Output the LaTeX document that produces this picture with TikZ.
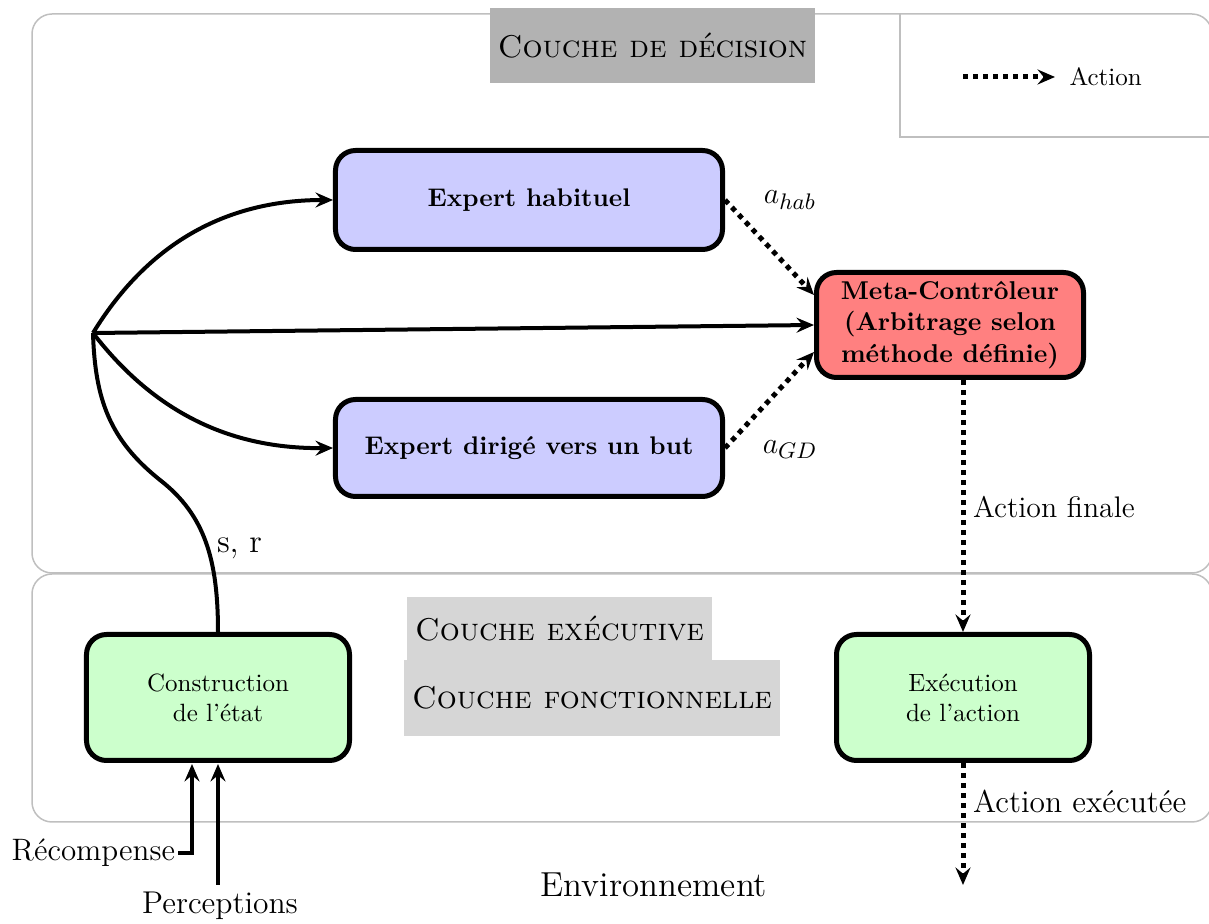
\documentclass[tikz,border=0pt]{standalone}
\usetikzlibrary{arrows.meta}
\begin{document}
\begin{tikzpicture}[x=0.4pt,y=-0.4pt,
  layer/.style={draw=black!25, line width=0.6pt, rounded corners=8pt},
  box/.style={draw=black, line width=2pt, rounded corners=8pt, align=center, inner sep=0pt},
  titlebox/.style={inner sep=0pt, font=\fontsize{12.6}{15}\selectfont\scshape},
  conn/.style={line width=1.6pt, -{Stealth[length=7pt,width=6pt,inset=2.5pt]}},
  plain/.style={line width=1.6pt},
  dot/.style={line width=2pt, dash pattern=on 2pt off 2pt, -{Stealth[length=7pt,width=6pt,inset=2.5pt]}},
  lbl/.style={font=\fontsize{12.6}{15}\selectfont, inner sep=1pt}]
\useasboundingbox (0,0) rectangle (1209,924);
% layers
\draw[layer] (32,14) rectangle (1212,573);
\draw[layer] (32,574) rectangle (1212,822);
% legend
\draw[draw=black!25, line width=0.6pt] (900,14) -- (900,137) -- (1209,137);
\coordinate (la) at (963,77);
\coordinate (lb) at (1055,77);
\draw[dot] (la) -- (lb);
\node[anchor=west, inner sep=0pt] (lt) at (1069,77) {Action};
% titles
\node[titlebox, fill=black!30, minimum width=130pt, minimum height=30pt] (tdec) at (652.5,45.5) {Couche de décision};
\node[titlebox, fill=black!16, minimum width=122pt, minimum height=25.2pt] (texe) at (559.5,628.5) {Couche exécutive};
\node[titlebox, fill=black!16, minimum width=150.4pt, minimum height=30.4pt] (tfon) at (592,698) {Couche fonctionnelle};
% boxes
\node[box, fill=blue!20, minimum width=154.8pt, minimum height=39.6pt, font=\fontsize{10.2}{12.6}\selectfont\bfseries] (eh) at (529,200) {Expert habituel};
\node[box, fill=blue!20, minimum width=154.8pt, minimum height=38.8pt, font=\fontsize{10.2}{12.6}\selectfont\bfseries] (ed) at (529,448) {Expert dirigé vers un but};
\node[box, fill=red!50, minimum width=106.8pt, minimum height=42pt, font=\fontsize{10.3}{12.6}\selectfont\bfseries] (mc) at (950,325) {Meta-Contrôleur\\(Arbitrage selon\\méthode définie)};
\node[box, fill=green!20, minimum width=105.2pt, minimum height=50.4pt] (cs) at (218,697.5) {Construction\\de l'état};
\node[box, fill=green!20, minimum width=101.2pt, minimum height=50.4pt] (ex) at (963,697.5) {Exécution\\de l'action};
% branch
\coordinate (b) at (93,333);
\draw[plain] (cs.north) .. controls (218,560) and (205,515) .. (160,480) .. controls (110,440) and (95,400) .. (b);
\node[font=\fontsize{13.2}{15}\selectfont, inner sep=1pt, anchor=west] (sr) at (214,548) {s, r};
\draw[conn] (b) .. controls (150,240) and (230,200) .. (eh.west);
\draw[conn] (b) -- (mc.west);
\draw[conn] (b) .. controls (160,420) and (240,449) .. (ed.west);
% actions
\draw[dot] (eh.east) -- (mc.north west |- 0,295) coordinate (m1);
\draw[dot] (ed.east) -- (mc.south west |- 0,352) coordinate (m2);
\node[lbl] (ah) at (790,200) {$a_{hab}$};
\node[lbl] (ag) at (790,450) {$a_{GD}$};
\draw[dot] (mc.south -| ex.north) -- (ex.north);
\node[font=\fontsize{11.9}{15}\selectfont, inner sep=1pt, anchor=west] (af) at (970,507) {Action finale};
\coordinate (env) at (963,885);
\draw[dot] (ex.south) -- (env);
\node[font=\fontsize{12.6}{15}\selectfont, inner sep=1pt, anchor=west] (ae) at (970,801) {Action exécutée};
% inputs
\node[font=\fontsize{12.4}{15}\selectfont, inner sep=1pt, anchor=east] (rc) at (178,853) {Récompense};
\coordinate (rin) at (192,764);
\draw[conn] (rc.east) -| (rin);
\node[font=\fontsize{12.6}{15}\selectfont, inner sep=0pt] (pc) at (220,906) {Perceptions};
\coordinate (pin) at (218,764);
\draw[conn] (218,885) -- (pin);
\node[font=\fontsize{13.9}{16}\selectfont, inner sep=0pt] (en) at (654,885) {Environnement};
\end{tikzpicture}
\end{document}
